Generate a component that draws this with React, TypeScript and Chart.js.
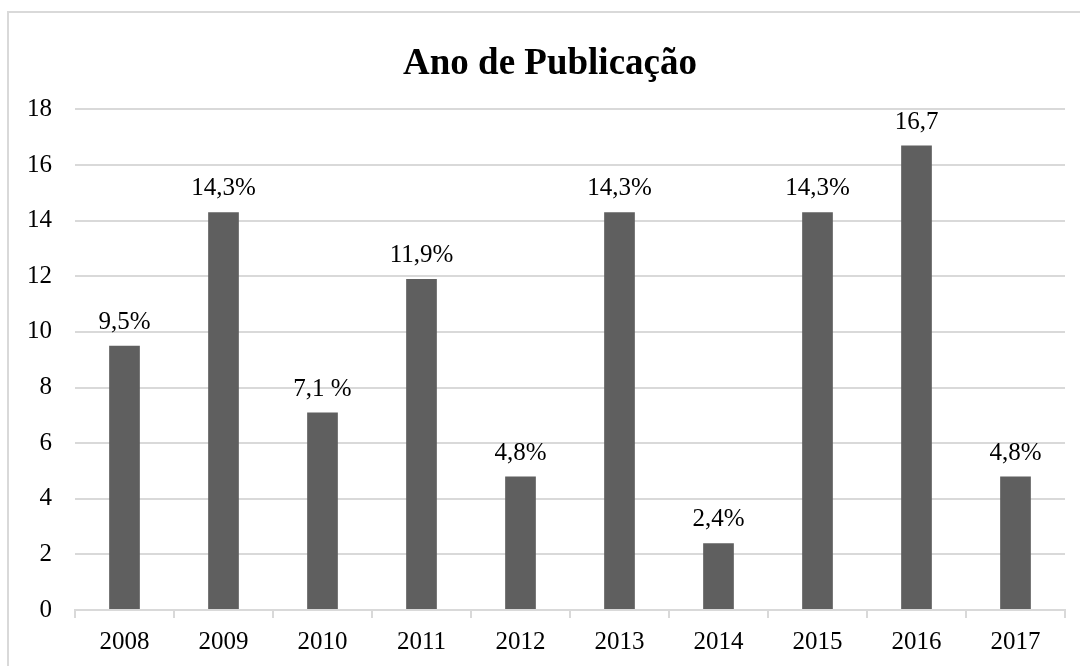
import React, { useEffect, useRef } from "react";
import { Chart, registerables } from "chart.js";

Chart.register(...registerables);

const title = "Ano de Publicação";
const years = ["2008", "2009", "2010", "2011", "2012", "2013", "2014", "2015", "2016", "2017"];
const values = [9.5, 14.3, 7.1, 11.9, 4.8, 14.3, 2.4, 14.3, 16.7, 4.8];
const valueLabels = ["9,5%", "14,3%", "7,1 %", "11,9%", "4,8%", "14,3%", "2,4%", "14,3%", "16,7", "4,8%"];

const FONT = "'Liberation Serif', 'Times New Roman', serif";
const GRID = "#d9d9d9";

const framePlugin = {
  id: "frame",
  beforeDraw(chart: any) {
    const ctx = chart.ctx;
    ctx.save();
    ctx.fillStyle = "#ffffff";
    ctx.fillRect(0, 0, chart.width, chart.height);
    ctx.strokeStyle = GRID;
    ctx.lineWidth = 2;
    ctx.strokeRect(8, 12, chart.width + 20, chart.height + 20);
    ctx.restore();
  },
  afterDraw(chart: any) {
    const ctx = chart.ctx;
    const t = chart.titleBlock;
    ctx.save();
    ctx.font = `bold 37px ${FONT}`;
    ctx.fillStyle = "#000000";
    ctx.textAlign = "center";
    ctx.textBaseline = "middle";
    const cy = t ? (t.top + t.bottom) / 2 : 56;
    ctx.fillText(title, 550, cy);
    ctx.restore();
  },
};

const labelPlugin = {
  id: "valueLabels",
  afterDatasetsDraw(chart: any) {
    const ctx = chart.ctx;
    const meta = chart.getDatasetMeta(0);
    ctx.save();
    ctx.font = `25px ${FONT}`;
    ctx.fillStyle = "#000000";
    ctx.textAlign = "center";
    ctx.textBaseline = "alphabetic";
    meta.data.forEach((bar: any, i: number) => {
      ctx.fillText(valueLabels[i], bar.x, bar.y - 17);
    });
    ctx.restore();
  },
};

export default function App() {
  const ref = useRef<HTMLCanvasElement | null>(null);
  useEffect(() => {
    if (!ref.current) return;
    const chart = new Chart(ref.current, {
      type: "bar",
      data: {
        labels: years,
        datasets: [
          {
            data: values,
            backgroundColor: "#5f5f5f",
            categoryPercentage: 1,
            barPercentage: 0.31,
          },
        ],
      },
      options: {
        animation: false,
        responsive: false,
        layout: { padding: { left: 0, right: 15, top: 20, bottom: 0 } },
        plugins: {
          legend: { display: false },
          tooltip: { enabled: false },
          title: {
            display: true,
            text: title,
            color: "rgba(0,0,0,0)",
            font: { family: FONT, size: 37, weight: "bold" },
            padding: { top: 15, bottom: 30 },
          },
        },
        scales: {
          x: {
            grid: {
              display: true,
              drawOnChartArea: false,
              drawTicks: true,
              tickLength: 8,
              color: GRID,
              lineWidth: 2,
              offset: true,
            },
            border: { display: true, color: GRID, width: 2 },
            ticks: { color: "#000000", font: { family: FONT, size: 25 }, padding: 9 },
          },
          y: {
            min: 0,
            max: 18,
            afterFit: (s: any) => {
              s.width = 75;
            },
            grid: { color: GRID, lineWidth: 2, drawTicks: false },
            border: { display: false },
            ticks: {
              stepSize: 2,
              color: "#000000",
              font: { family: FONT, size: 25 },
              padding: 23,
            },
          },
        },
      },
      plugins: [framePlugin, labelPlugin],
    });
    return () => chart.destroy();
  }, []);
  return (
    <div style={{ position: "absolute", left: 0, top: 0, width: 1080, height: 666 }}>
      <canvas ref={ref} width={1080} height={666} style={{ display: "block" }} />
    </div>
  );
}
